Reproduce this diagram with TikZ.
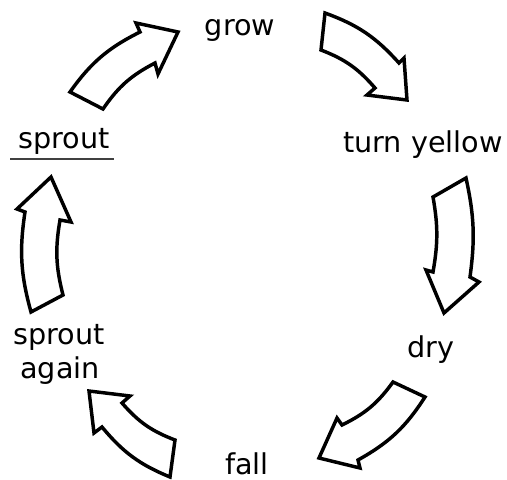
\documentclass[tikz,border=0pt]{standalone}
\usepackage{fontspec}
\setmainfont{DejaVu Sans}
\begin{document}
\begin{tikzpicture}[x=0.75pt,y=-0.75pt,
  lbl/.style={font=\fontsize{21.5}{24}\selectfont, inner sep=0pt, anchor=base},
  blockarrow/.style={draw=black, fill=white, line width=2.6pt, line join=miter, miter limit=4}]
\useasboundingbox (0,0) rectangle (507,479);
% labels
\node[lbl] (grow) at (240,35) {grow};
\node[lbl] (yellow) at (423,152) {turn yellow};
\node[lbl] (dry) at (431,357) {dry};
\node[lbl] (fall) at (247,474) {fall};
\node[lbl] (again1) at (59,344) {sprout};
\node[lbl] (again2) at (60,378) {again};
\node[lbl] (sprout) at (64,148) {sprout};
\coordinate (ulA) at (10,159);
\coordinate (ulB) at (114,159);
\draw[line width=1.1pt, black!75] (ulA) -- (ulB);
% arrow: sprout -> grow
\draw[blockarrow] (70,92) to[bend left=14] (140,32) -- (136,23) -- (178,32) -- (158,74) -- (155,63) to[bend right=14] (103,109) -- cycle;
% arrow: grow -> turn yellow
\draw[blockarrow] (325,13) to[bend left=14] (399,63) -- (404,58) -- (407,100) -- (367,95) -- (375,88) to[bend right=14] (321,50) -- cycle;
% arrow: turn yellow -> dry
\draw[blockarrow] (466,178) to[bend left=10] (470,277) -- (479,282) -- (444,313) -- (426,270) -- (433,272) to[bend right=10] (433,197) -- cycle;
% arrow: dry -> fall
\draw[blockarrow] (425,397) to[bend left=14] (358,460) -- (360,468) -- (319,458) -- (337,418) -- (342,425) to[bend right=14] (393,382) -- cycle;
% arrow: fall -> sprout again
\draw[blockarrow] (170,477) to[bend left=14] (102,427) -- (94,433) -- (89,391) -- (130,396) -- (122,403) to[bend right=14] (175,440) -- cycle;
% arrow: sprout again -> sprout
\draw[blockarrow] (31,312) to[bend left=12] (25,212) -- (17,209) -- (51,177) -- (71,222) -- (60,220) to[bend right=12] (63,295) -- cycle;
\end{tikzpicture}
\end{document}
